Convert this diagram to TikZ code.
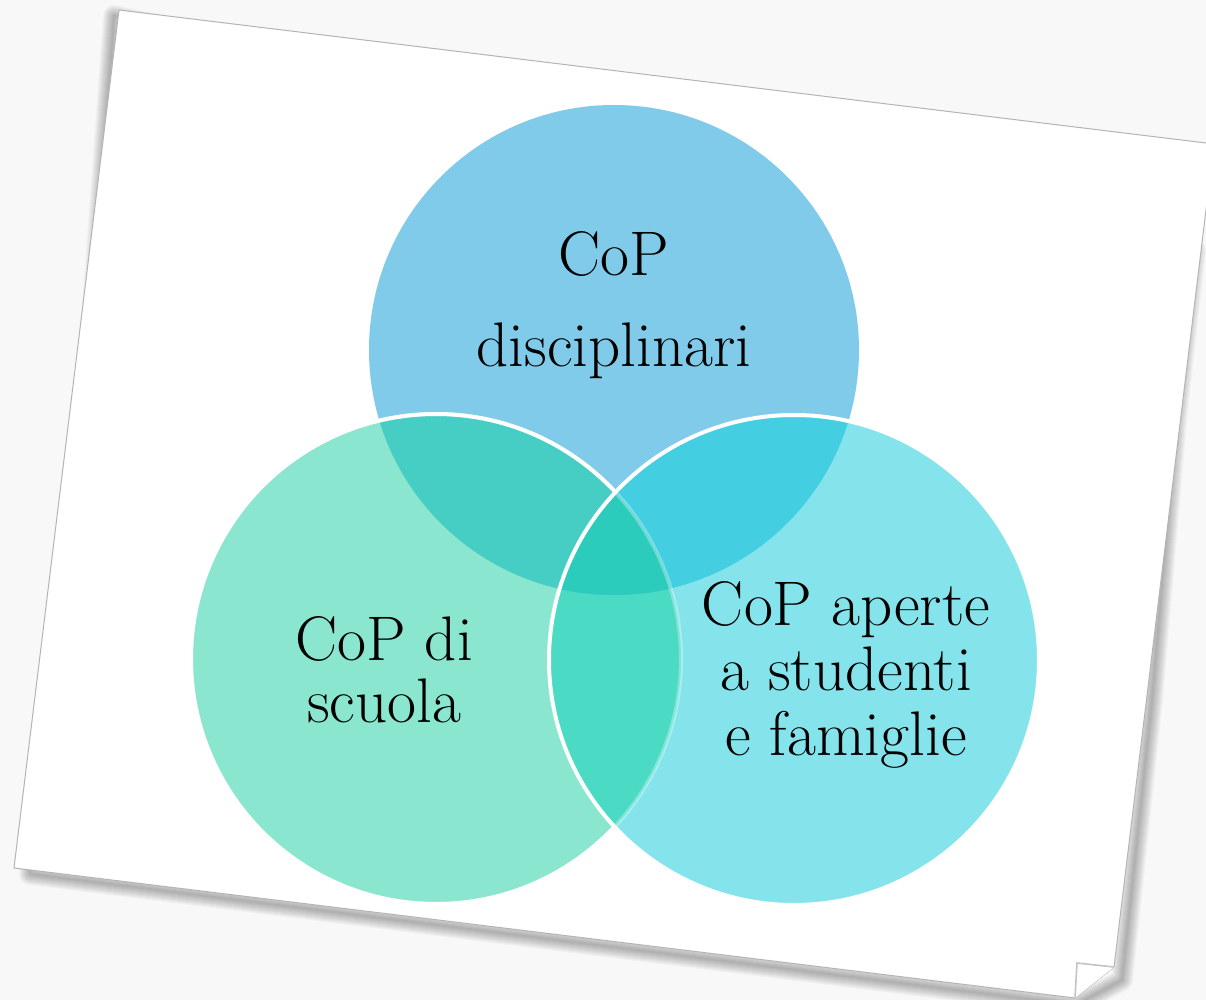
\documentclass[tikz,border=0pt]{standalone}
\usepackage{fontspec}

\definecolor{bgc}{HTML}{F8F8F8}
\definecolor{edgec}{HTML}{B4B4B4}
\definecolor{topc}{HTML}{7FCBE9}
\definecolor{leftc}{HTML}{8AE6CE}
\definecolor{rightc}{HTML}{85E4EB}
\definecolor{tlc}{HTML}{47CEC4}
\definecolor{trc}{HTML}{44CEE1}
\definecolor{lrc}{HTML}{4BDAC4}
\definecolor{allc}{HTML}{2BCCBB}

\tikzset{
  cop/.style={align=center, inner sep=0pt, text=black,
    font=\fontsize{31.5}{32.5}\selectfont},
  ring/.style={draw=white, line width=2pt},
}

\begin{document}
\begin{tikzpicture}[x=.5pt,y=-.5pt]
  \pgfmathsetmacro{\rad}{245}

  \useasboundingbox (0,0) rectangle (1206,1000);
  \fill[bgc] (0,0) rectangle (1206,1000);

  % sheet corners
  \coordinate (S1) at (119,10);
  \coordinate (S2) at (1214,144);
  \coordinate (S3) at (1114,967);
  \coordinate (S4) at (1075,998);
  \coordinate (S5) at (14,868);
  \coordinate (F) at (1077,963);

  % soft shadow under the sheet
  \foreach \w in {2,4,...,22}
    \draw[black, opacity=.027, line width=\w*.5pt, line join=round]
      (114,16) -- (92,320) -- (30,860) -- (30,874) -- (1076,1005)
      -- (1122,980) -- (1152,700) -- (1176,420) -- (1195,250) -- cycle;

  \filldraw[fill=white, draw=edgec, line width=.5pt]
    (S1) -- (S2) -- (S3) -- (S4) -- (S5) -- cycle;
  % curled corner
  \fill[white] (S3) -- (F) -- (S4) -- cycle;
  \draw[edgec!80, line width=.8pt] (S3) -- (F) -- (S4);

  % circles
  \coordinate (T) at (614,350);
  \coordinate (L) at (436,659);
  \coordinate (R) at (794,660);

  \fill[topc] (T) circle (\rad);
  \fill[leftc] (L) circle (\rad);
  \fill[rightc] (R) circle (\rad);
  \begin{scope}
    \clip (L) circle (\rad);
    \fill[lrc] (R) circle (\rad);
  \end{scope}
  \begin{scope}
    \clip (T) circle (\rad);
    \fill[tlc] (L) circle (\rad);
    \fill[trc] (R) circle (\rad);
    \clip (L) circle (\rad);
    \fill[allc] (R) circle (\rad);
  \end{scope}

  \draw[ring, draw opacity=.3] (L) circle (\rad);
  \begin{scope}[even odd rule]
    \clip (0,0) rectangle (1206,1000) (R) circle (\rad);
    \draw[ring] (L) circle (\rad);
  \end{scope}
  \draw[ring] (R) circle (\rad);

  % labels
  \node[cop, anchor=base, font=\fontsize{31.5}{46}\selectfont] (tlab) at (614,367)
    {CoP\\disciplinari};
  \node[cop, anchor=base, font=\fontsize{31.5}{31}\selectfont] (llab) at (384,722)
    {CoP di\\scuola};
  \node[cop, anchor=base] (rlab) at (846,755) {CoP aperte\\a studenti\\e famiglie};
\end{tikzpicture}
\end{document}
